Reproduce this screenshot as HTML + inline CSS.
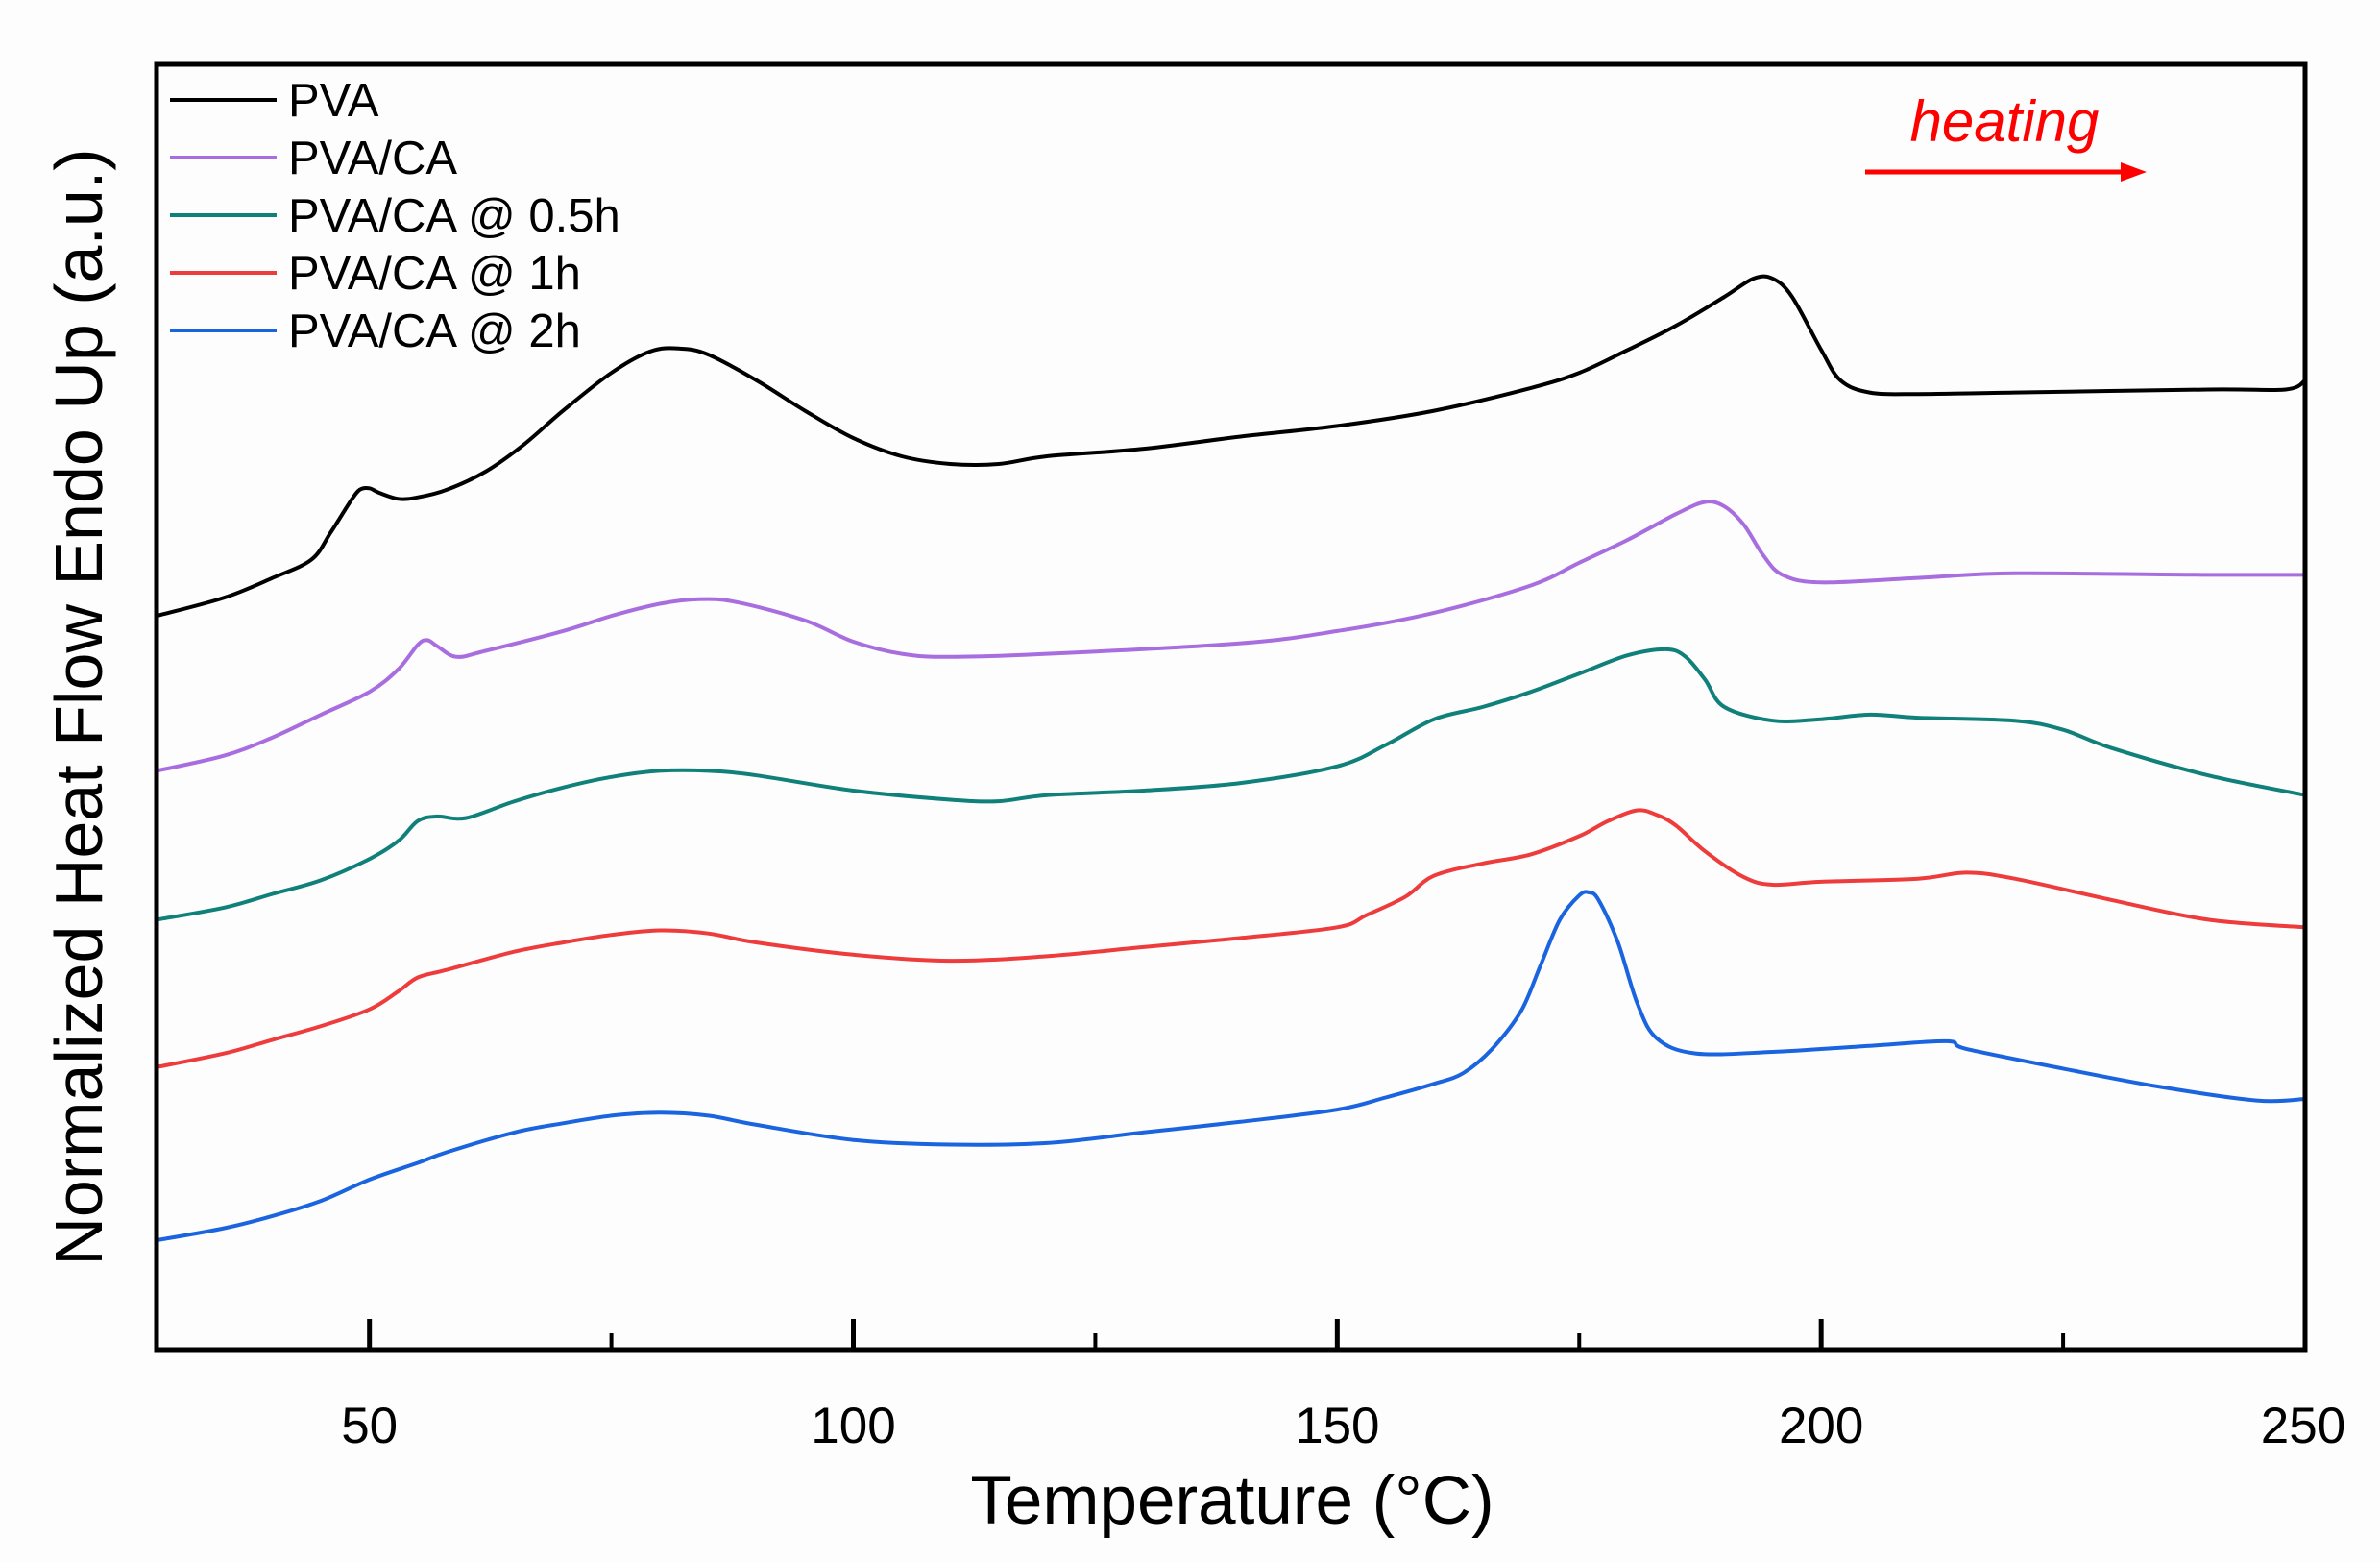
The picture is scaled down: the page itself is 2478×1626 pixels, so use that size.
<!DOCTYPE html>
<html><head><meta charset="utf-8"><style>
html,body{margin:0;padding:0;background:#fdfdfd;}
svg{display:block;font-family:"Liberation Sans",Arial,sans-serif;}
</style></head><body>
<svg id="chart" width="2478" height="1626" viewBox="0 0 2478 1626">
<rect x="0" y="0" width="2478" height="1626" fill="#fdfdfd"/>
<g id="plot"></g>
<rect x="163" y="67" width="2237" height="1338" fill="none" stroke="#000" stroke-width="5"/>
<g id="xaxis"></g>
<text x="1283" y="1586" font-size="71" text-anchor="middle">Temperature (°C)</text>
<text transform="translate(106,736) rotate(-90)" font-size="70" text-anchor="middle">Normalized Heat Flow Endo Up (a.u.)</text>
<g id="legend"></g>
<text x="2087" y="147" font-size="60" font-style="italic" fill="#ff0000" text-anchor="middle">heating</text>
<line x1="1942" y1="179" x2="2210" y2="179" stroke="#ff0000" stroke-width="5"/>
<polygon points="2208,169 2235,179 2208,189" fill="#ff0000"/>
</svg>
<script>
const temps = [28,35,40,44,46,48,49,50,51,53,55,58,62,66,70,75,79,82,85,90,95,100,105,110,115,120,130,140,150,160,170,175,180,185,190,193,195,197,200,202,205,210,220,240,248,250];
const pva = [4.83,4.95,5.08,5.20,5.38,5.58,5.66,5.67,5.64,5.60,5.61,5.66,5.78,5.96,6.18,6.43,6.57,6.59,6.55,6.38,6.18,6.00,5.88,5.83,5.83,5.88,5.93,6.01,6.08,6.18,6.33,6.43,6.58,6.74,6.93,7.05,7.05,6.93,6.58,6.38,6.30,6.29,6.30,6.32,6.32,6.38];
const tempsCA = [28,35,40,45,50,53,55,56,57,59,62,70,75,80,84,88,95,100,105,110,120,140,150,160,170,175,180,185,188,190,192,194,196,200,210,220,240,250];
const pvaCA = [3.81,3.91,4.03,4.18,4.33,4.48,4.64,4.67,4.63,4.56,4.60,4.73,4.83,4.91,4.94,4.92,4.80,4.66,4.58,4.56,4.58,4.65,4.73,4.85,5.03,5.18,5.33,5.50,5.58,5.55,5.43,5.23,5.10,5.05,5.08,5.11,5.10,5.10];
const temps05 = [28,35,40,45,50,53,55,57,60,65,70,75,80,85,90,100,110,115,120,130,140,150,155,160,165,170,175,180,184,186,188,190,195,200,205,210,220,225,230,240,250];
const pvaCA05 = [2.83,2.91,3.00,3.09,3.23,3.35,3.48,3.51,3.50,3.61,3.70,3.77,3.81,3.81,3.78,3.68,3.62,3.61,3.65,3.68,3.73,3.84,3.98,4.15,4.23,4.33,4.45,4.57,4.61,4.56,4.41,4.23,4.14,4.15,4.18,4.16,4.14,4.08,3.96,3.78,3.65];
const temps1 = [28,35,40,45,50,53,55,58,65,70,75,80,85,90,100,110,120,130,140,150,153,157,160,165,170,175,178,181,183,185,188,192,195,200,210,215,220,230,240,250];
const pvaCA1 = [1.86,1.95,2.04,2.13,2.24,2.36,2.45,2.50,2.62,2.68,2.73,2.76,2.74,2.68,2.60,2.56,2.59,2.65,2.71,2.78,2.86,2.98,3.12,3.20,3.26,3.38,3.48,3.55,3.52,3.45,3.28,3.11,3.06,3.08,3.10,3.14,3.10,2.96,2.83,2.78];
const temps2 = [28,35,40,45,50,55,58,65,70,75,80,85,90,100,110,120,130,140,150,155,160,163,166,169,171,173,175,176,177,179,181,183,187,195,205,213,215,225,235,245,250];
const pvaCA2 = [0.72,0.80,0.88,0.98,1.12,1.23,1.30,1.43,1.49,1.54,1.56,1.54,1.48,1.38,1.35,1.36,1.43,1.50,1.58,1.66,1.75,1.82,1.98,2.23,2.53,2.83,2.99,3.01,2.96,2.68,2.28,2.05,1.95,1.96,2.00,2.03,1.98,1.85,1.73,1.64,1.65];
const seriesNames = ["PVA","PVA/CA","PVA/CA @ 0.5h","PVA/CA @ 1h","PVA/CA @ 2h"];
const seriesColors = ["#000000","#a86ee0","#0f807a","#ee3b3b","#1a64e0"];
const xTicks = [50,100,150,200,250];
const xMinorTicks = [75,125,175,225];

const NS="http://www.w3.org/2000/svg";
const X0=163,X1=2400,Y0=1405,Y1=67;
const xMin=28,xMax=250,yMin=0,yMax=8.46;
function xs(v){return X0+(v-xMin)/(xMax-xMin)*(X1-X0);}
function ys(v){return Y0-(v-yMin)/(yMax-yMin)*(Y0-Y1);}
function mk(tag,attrs,parent){const e=document.createElementNS(NS,tag);for(const k in attrs)e.setAttribute(k,attrs[k]);parent.appendChild(e);return e;}
function pathFor(tx,vy){
  const p=tx.map((t,i)=>[xs(t),ys(vy[i])]);
  let d="M"+p[0][0].toFixed(1)+","+p[0][1].toFixed(1);
  for(let i=0;i<p.length-1;i++){
    const a=p[i-1]||p[i],b=p[i],c=p[i+1],e=p[i+2]||c;
    const c1=[b[0]+(c[0]-a[0])/6,b[1]+(c[1]-a[1])/6],c2=[c[0]-(e[0]-b[0])/6,c[1]-(e[1]-b[1])/6];
    d+=" C"+c1[0].toFixed(1)+","+c1[1].toFixed(1)+" "+c2[0].toFixed(1)+","+c2[1].toFixed(1)+" "+c[0].toFixed(1)+","+c[1].toFixed(1);
  }
  return d;
}
const plot=document.getElementById('plot');
const data=[[temps,pva],[tempsCA,pvaCA],[temps05,pvaCA05],[temps1,pvaCA1],[temps2,pvaCA2]];
const lineNames=['pva-line','pva-ca-line','pva-ca-0.5h-line','pva-ca-1h-line','pva-ca-2h-line'];
data.forEach((s,i)=>{
  const el=mk('path',{d:pathFor(s[0],s[1]),fill:'none',stroke:seriesColors[i],'stroke-width':4,'stroke-linejoin':'round'},plot);
  
  
});
const xa=document.getElementById('xaxis');
xTicks.forEach(t=>{
  const x=xs(t);
  const l=mk('line',{x1:x,y1:Y0,x2:x,y2:Y0-32,stroke:'#000','stroke-width':5},xa);
  
  
  const tx=mk('text',{x:t===250?x-2:x,y:1502,'font-size':53,'text-anchor':'middle'},xa);
  tx.textContent=t;
  
  
});
xMinorTicks.forEach(t=>{
  const x=xs(t);
  const l=mk('line',{x1:x,y1:Y0,x2:x,y2:Y0-17,stroke:'#000','stroke-width':4},xa);
  
  
});
const lg=document.getElementById('legend');
seriesNames.forEach((n,i)=>{
  const y=104+i*60;
  const g=mk('g',{},lg);
  
  
  mk('line',{x1:177,y1:y,x2:288,y2:y,stroke:seriesColors[i],'stroke-width':4},g);
  const t=mk('text',{x:300,y:y+17,'font-size':49},g);
  t.textContent=n;
});
</script>
</body></html>
